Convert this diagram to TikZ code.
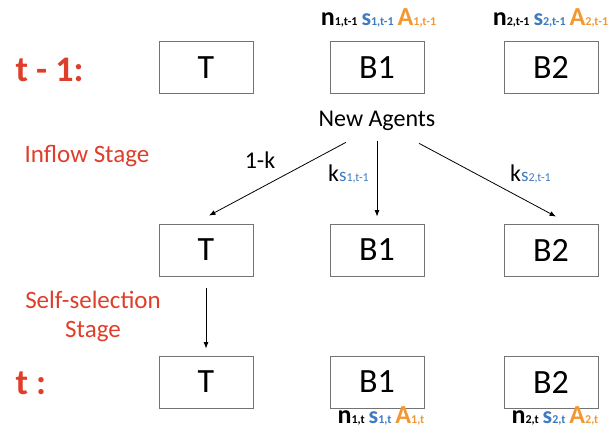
\documentclass[tikz,border=0pt]{standalone}
\usepackage{fontspec}
\setmainfont{Carlito}
\usetikzlibrary{arrows.meta}
\definecolor{stagered}{RGB}{222,62,42}
\definecolor{sblue}{RGB}{62,122,192}
\definecolor{aorange}{RGB}{242,152,50}
\newcommand{\fsz}[1]{\fontsize{#1}{#1}\selectfont}
\newcommand{\nsa}[1]{\bfseries{\fsz{26}n}{\fsz{12}#1}\hspace{4pt}\textcolor{sblue}{{\fsz{24}s}{\fsz{12}#1}}\hspace{4pt}\textcolor{aorange}{{\fsz{26}A}{\fsz{12}#1}}}

\begin{document}
\begin{tikzpicture}[x=1pt,y=1pt,
    box/.style={draw=black!55,line width=0.8pt,minimum width=94pt,minimum height=52pt,inner sep=0pt,font=\fsz{34}},
    flow/.style={-{Latex[length=6.5pt,width=5pt]},line width=0.8pt},
    stage/.style={text=stagered,font=\fsz{25}},
    period/.style={text=stagered,font=\bfseries\fsz{36},anchor=base west}]
        \useasboundingbox (0,0) rectangle (611,434);
        \node[box] (Ta) at (206,366.5) {T};
        \node[box] (B1a) at (377,366.5) {B1};
        \node[box] (B2a) at (551,366.5) {B2};
        \node[box] (Tb) at (206,184) {T};
        \node[box] (B1b) at (377,184) {B1};
        \node[box] (B2b) at (551,184) {B2};
        \node[box] (Tc) at (206,52) {T};
        \node[box] (B1c) at (377,52) {B1};
        \node[box] (B2c) at (551,52) {B2};
        \node[period] (prev) at (12,352) {t - 1:};
        \node[period] (now) at (12,39) {t :};
        \node[stage,anchor=base] (inflow) at (87,271) {Inflow Stage};
        \node[stage,anchor=base,align=center,font=\fontsize{25}{29}\selectfont] (select) at (93,96) {Self-selection\\Stage};
        \node[font=\fsz{24},inner sep=0pt,anchor=base] (agents) at (377,307) {New Agents};
        \draw[flow] ([xshift=-31pt,yshift=-11pt]agents.south) -- ([xshift=3pt,yshift=8pt]Tb.north);
        \draw[flow] ([yshift=-10pt]agents.south) -- ([yshift=7pt]B1b.north);
        \draw[flow] ([xshift=42pt,yshift=-12pt]agents.south) -- ([xshift=5pt,yshift=7pt]B2b.north);
        \draw[flow] ([yshift=-12pt]Tb.south) -- ([yshift=7pt]Tc.north);
        \node[font=\fsz{24},anchor=base] (outk) at (260,265) {1-k};
        \node[anchor=base west,inner sep=0pt] (ks1) at (328,252) {{\fsz{24}k}\textcolor{sblue}{{\fsz{19}s}{\fsz{12}1,t-1}}};
        \node[anchor=base west,inner sep=0pt] (ks2) at (510,252) {{\fsz{24}k}\textcolor{sblue}{{\fsz{19}s}{\fsz{12}2,t-1}}};
        \node[anchor=base] (stateB1a) at (378.5,408) {\nsa{1,t-1}};
        \node[anchor=base] (stateB2a) at (550.5,408) {\nsa{2,t-1}};
        \node[anchor=base] (stateB1c) at (381,10) {\nsa{1,t}};
        \node[anchor=base] (stateB2c) at (555,10) {\nsa{2,t}};
    \end{tikzpicture}
\end{document}
